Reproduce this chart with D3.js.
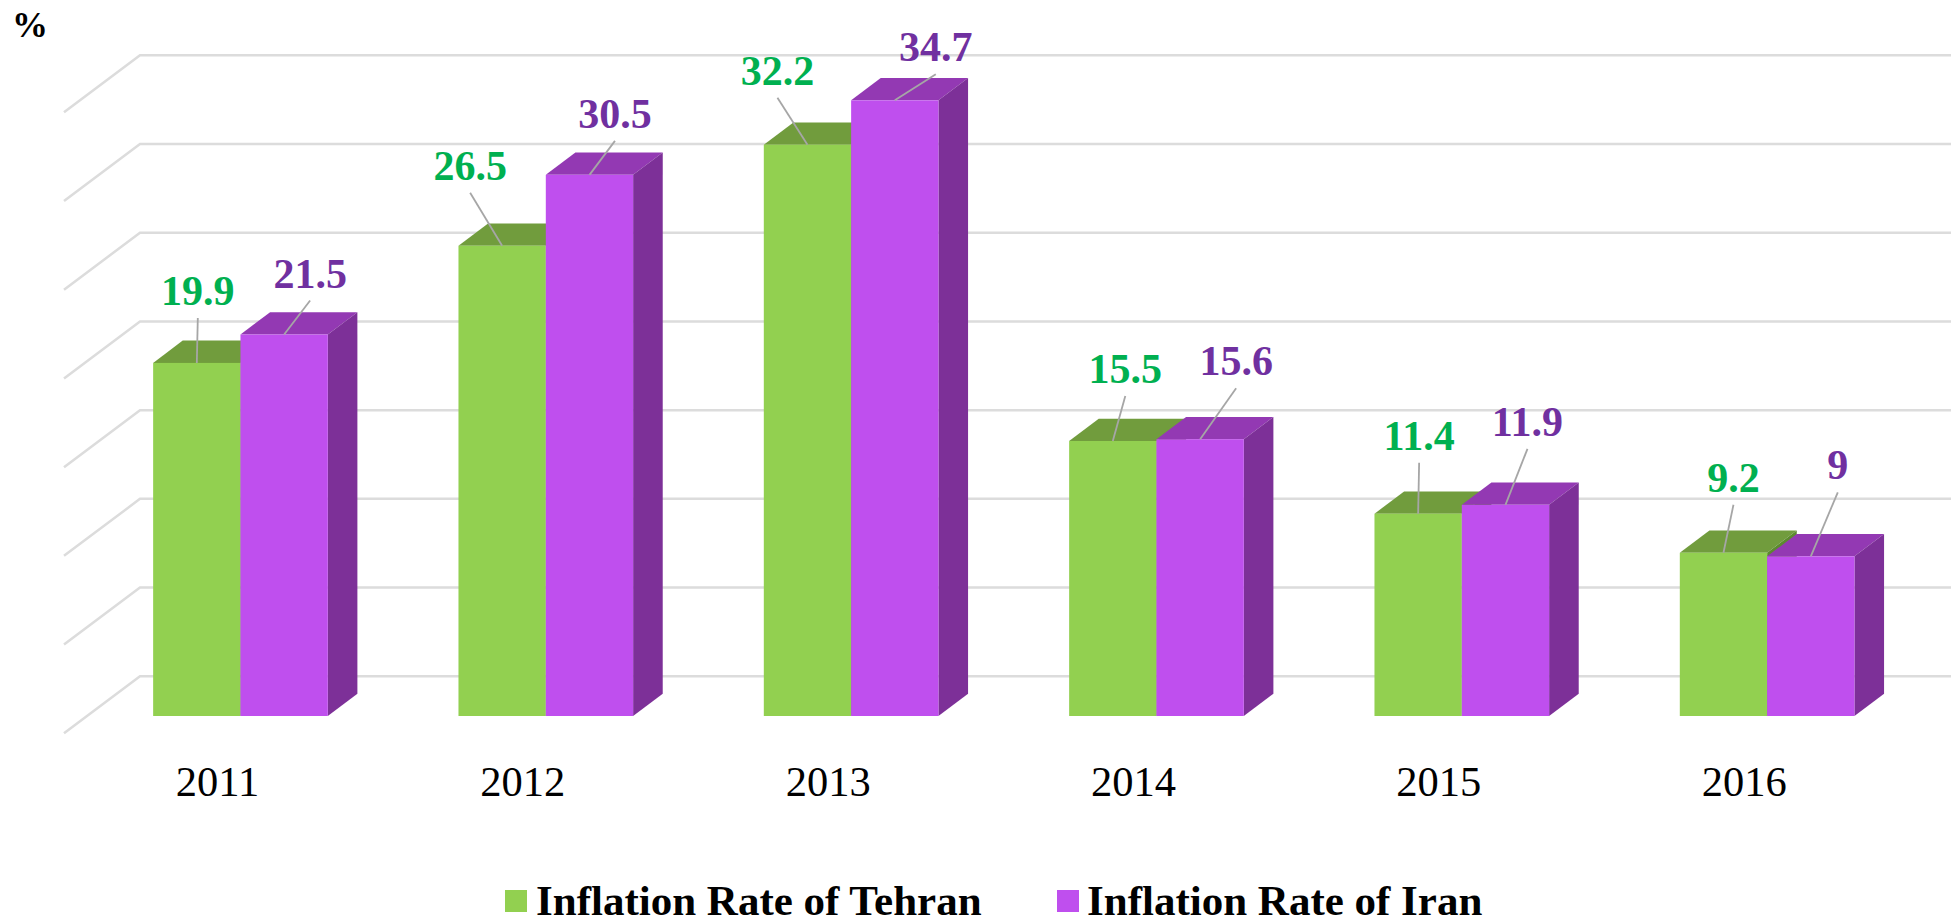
<!DOCTYPE html>
<meta charset="utf-8">

<!-- Load d3.js -->
<script src="https://d3js.org/d3.v7.min.js"></script>

<style>
  html, body { margin: 0; padding: 0; background: #fff; overflow: hidden; }
  text { font-family: "Liberation Serif", serif; }
</style>

<div id="my_dataviz"></div>

<script>

// data
var years = ["2011", "2012", "2013", "2014", "2015", "2016"];
var tehran = [19.9, 26.5, 32.2, 15.5, 11.4, 9.2];
var iran = [21.5, 30.5, 34.7, 15.6, 11.9, 9];
var tehranLabels = ["19.9", "26.5", "32.2", "15.5", "11.4", "9.2"];
var iranLabels = ["21.5", "30.5", "34.7", "15.6", "11.9", "9"];
var gridTicks = [0, 5, 10, 15, 20, 25, 30, 35];

// hand placed data labels: offset of the label from the top centre of its bar
var tehranOffset = [[1, -58], [-32, -66], [-30, -60], [12.5, -58], [1, -64], [10, -61]];
var iranOffset = [[26, -47], [25.5, -47], [41, -39], [36, -64], [22, -69], [27, -77]];

var width = 1951, height = 918;

// the chart floor, seen at an angle
var floor = {dx: 76, dy: -57};
var inset = {dx: 23, dy: -17.3};
var depth = {dx: 29.6, dy: -22.3};

var svg = d3.select("#my_dataviz")
  .append("svg")
    .attr("width", width)
    .attr("height", height)
    .style("display", "block");

var x = d3.scaleBand()
  .domain(years)
  .range([64.8, 1896.8])
  .paddingInner(0.428)
  .paddingOuter(0.214);

var y = d3.scaleLinear()
  .domain([0, 35])
  .range([733.3, 112.3]);

// gridlines: side wall and back wall
var grid = svg.append("g");
gridTicks.forEach(function(t) {
  grid.append("path")
    .attr("d", "M" + (x.range()[0] - 0.8) + "," + y(t) +
      "L" + (x.range()[0] - 0.8 + floor.dx) + "," + (y(t) + floor.dy) +
      "L" + width + "," + (y(t) + floor.dy))
    .attr("fill", "none")
    .attr("stroke", "#dcdcdc")
    .attr("stroke-width", 2.5);
});

var barW = x.bandwidth() / 2;

function drawBars(values, offset, front, top, side) {
  var g = svg.append("g");
  years.forEach(function(year, i) {
    var x0 = x(year) + inset.dx + offset * barW;
    var x1 = x0 + barW;
    var y0 = y(0) + inset.dy;
    var yt = y(values[i]) + inset.dy;
    var pts = function(a) { return a.map(function(p) { return p.join(","); }).join(" "); };
    g.append("polygon")
      .attr("points", pts([[x0, yt], [x1, yt], [x1 + depth.dx, yt + depth.dy], [x0 + depth.dx, yt + depth.dy]]))
      .attr("fill", top);
    g.append("polygon")
      .attr("points", pts([[x1, yt], [x1 + depth.dx, yt + depth.dy], [x1 + depth.dx, y0 + depth.dy], [x1, y0]]))
      .attr("fill", side);
    g.append("rect")
      .attr("x", x0)
      .attr("y", yt)
      .attr("width", barW)
      .attr("height", y0 - yt)
      .attr("fill", front);
  });
}

drawBars(tehran, 0, "#92d050", "#719c3d", "#5c8a2e");
drawBars(iran, 1, "#bf4fee", "#9339b3", "#7d3098");

// labels with their leader lines
function drawLabels(values, labels, offsets, offset, color) {
  var g = svg.append("g");
  years.forEach(function(year, i) {
    var cx = x(year) + inset.dx + offset * barW + barW / 2;
    var yt = y(values[i]) + inset.dy;
    var lx = cx + offsets[i][0];
    var ly = yt + offsets[i][1];
    g.append("line")
      .attr("x1", cx)
      .attr("y1", yt)
      .attr("x2", lx)
      .attr("y2", ly + 13)
      .attr("stroke", "#a6a6a6")
      .attr("stroke-width", 1.8);
    g.append("text")
      .attr("x", lx)
      .attr("y", ly)
      .attr("text-anchor", "middle")
      .attr("font-size", 42)
      .attr("font-weight", "bold")
      .attr("fill", color)
      .text(labels[i]);
  });
}

drawLabels(tehran, tehranLabels, tehranOffset, 0, "#00b050");
drawLabels(iran, iranLabels, iranOffset, 1, "#7030a0");

// year labels
svg.append("g").selectAll("text")
  .data(years)
  .enter()
  .append("text")
    .attr("x", function(d) { return x(d) + x.bandwidth() / 2; })
    .attr("y", 796)
    .attr("text-anchor", "middle")
    .attr("font-size", 42.5)
    .attr("fill", "#000")
    .text(function(d) { return d; });

// axis unit
svg.append("text")
  .attr("x", 12)
  .attr("y", 37)
  .attr("font-size", 36)
  .attr("font-weight", "bold")
  .text("%");

// legend
var legend = svg.append("g");
legend.append("rect").attr("x", 505).attr("y", 890).attr("width", 22).attr("height", 22).attr("fill", "#92d050");
legend.append("text").attr("x", 536).attr("y", 915).attr("font-size", 43).attr("font-weight", "bold").text("Inflation Rate of Tehran");
legend.append("rect").attr("x", 1057).attr("y", 890).attr("width", 22).attr("height", 22).attr("fill", "#bf4fee");
legend.append("text").attr("x", 1087).attr("y", 915).attr("font-size", 43).attr("font-weight", "bold").text("Inflation Rate of Iran");

</script>
